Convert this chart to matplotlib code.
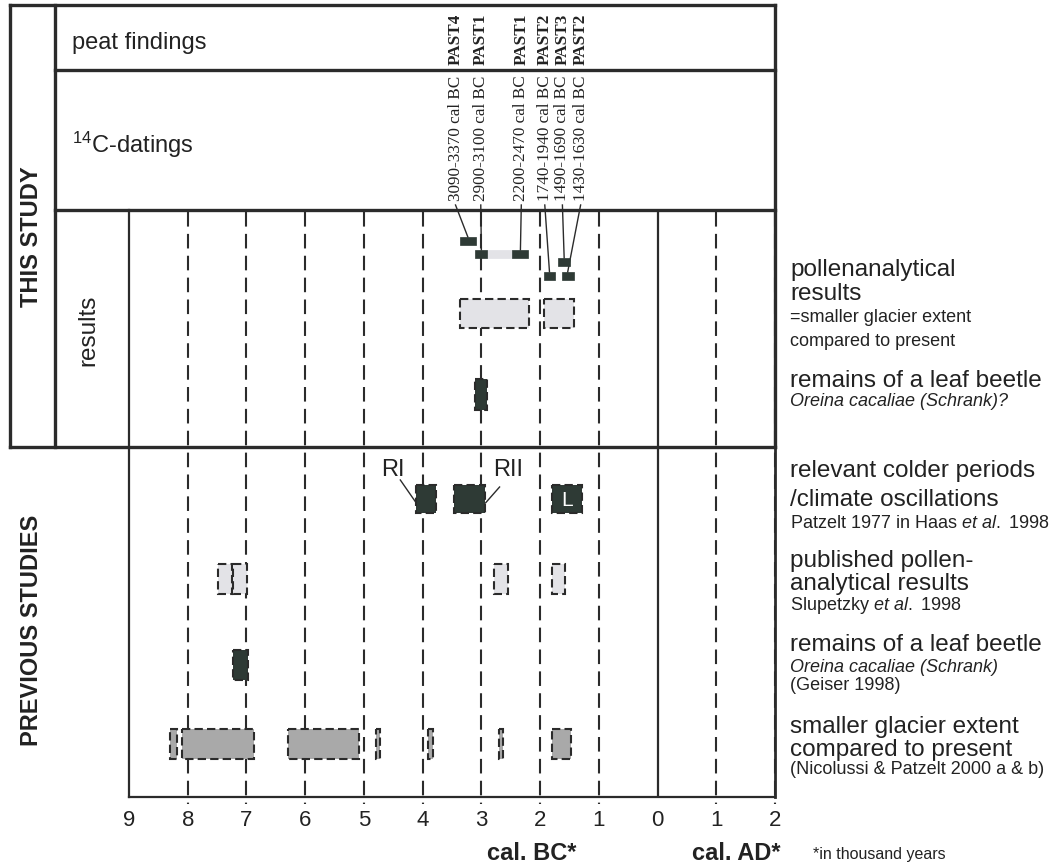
import matplotlib
matplotlib.use('Agg')
import matplotlib.pyplot as plt
from matplotlib.patches import Rectangle

plt.rcParams['font.family'] = ['Liberation Sans', 'DejaVu Sans']
plt.rcParams['mathtext.fontset'] = 'custom'
plt.rcParams['mathtext.rm'] = 'Liberation Sans'
plt.rcParams['mathtext.it'] = 'Liberation Sans:italic'
plt.rcParams['mathtext.bf'] = 'Liberation Sans:bold'

# ages in cal. years BC (old end, young end)
dating_sites = ["PAST4", "PAST1", "PAST1", "PAST2", "PAST3", "PAST2"]
dating_old = [3370, 3100, 2470, 1940, 1690, 1630]
dating_young = [3090, 2900, 2200, 1740, 1490, 1430]

pollen_this = [(3370, 2190), (1940, 1430)]
beetle_this = [(3100, 2900)]

cold_names = ["RI", "RII", "L"]
cold_periods = [(4120, 3780), (3470, 2930), (1790, 1290)]
pollen_prev = [(7480, 7250), (7230, 6990), (2790, 2550), (1790, 1580)]
beetle_prev = [(7230, 6970)]
glacier_prev = [(8300, 8180), (8100, 6870), (6290, 5090), (4800, 4730),
                (3910, 3830), (2700, 2640), (1790, 1480)]

tick_values = list(range(-9, 3))
tick_labels = ["9", "8", "7", "6", "5", "4", "3", "2", "1", "0", "1", "2"]

# layout (pixel rows of the original figure, y grows downwards)
W, H = 1060, 865
ROWS = {"pollen_this": (299, 328), "beetle_this": (379, 410),
        "cold": (485, 513), "pollen_prev": (564, 594),
        "beetle_prev": (650, 680), "glacier": (729, 759)}
DATING_ROW = {"PAST4": 237, "PAST1": 250, "PAST3": 258, "PAST2": 272}
LABEL_X = [-3.44, -3.01, -2.32, -1.92, -1.62, -1.31]

DARK = "#2b2b2b"
BAR = "#2e3a35"
LIGHT = "#e3e3e7"
MID = "#a9a9a9"
BOX_DASH = (0, (4, 2))

fig = plt.figure(figsize=(W / 100, H / 100), dpi=100, facecolor="white")

# frame / table lines
bg = fig.add_axes([0, 0, 1, 1], zorder=0)
bg.set_xlim(0, W)
bg.set_ylim(H, 0)
bg.axis("off")
thick = 2.4
for xs, ys, lw in [([10, 775], [5, 5], thick), ([10, 10], [5, 447], thick),
                   ([55, 55], [5, 447], thick), ([55, 775], [70, 70], thick),
                   ([55, 775], [210, 210], thick), ([10, 775], [447, 447], thick),
                   ([775, 775], [5, 447], thick), ([775, 775], [447, 797], 2.0)]:
    bg.plot(xs, ys, color=DARK, lw=lw, solid_capstyle="projecting")

# timeline panel
ax = fig.add_axes([129 / W, 1 - 797 / H, 646 / W, 587 / H], zorder=1)
ax.patch.set_alpha(0)
ax.set_xlim(-9, 2)
ax.set_ylim(797, 210)
for s in ["top", "right"]:
    ax.spines[s].set_visible(False)
for s in ["left", "bottom"]:
    ax.spines[s].set_linewidth(1.6)
    ax.spines[s].set_color(DARK)
ax.set_yticks([])
ax.set_xticks(tick_values)
ax.set_xticklabels(tick_labels)
ax.tick_params(axis="x", length=0, pad=9, labelsize=16, colors="#222222")

for t in tick_values:
    if t == 0:
        ax.plot([t, t], [210, 797], color=DARK, lw=1.6)
    elif t != -9:
        ax.plot([t, t], [212, 804], color=DARK, lw=1.5,
                linestyle=(0, (7, 3.5)), clip_on=False)


def box(old, young, row, face, dashed=True, z=3):
    top, bottom = ROWS[row] if isinstance(row, str) else row
    ax.add_patch(Rectangle((-old / 1000, top), (old - young) / 1000, bottom - top,
                           facecolor=face, edgecolor=DARK if dashed else face,
                           linestyle=BOX_DASH if dashed else "-",
                           lw=1.5 if dashed else 0.5, zorder=z))


# 14C datings, this study
bar_h = 7.5
past1 = [i for i, s in enumerate(dating_sites) if s == "PAST1"]
y1 = DATING_ROW["PAST1"]
box(dating_young[past1[0]], dating_old[past1[1]], (y1, y1 + bar_h), LIGHT, dashed=False, z=2)
for i, site in enumerate(dating_sites):
    y = DATING_ROW[site]
    box(dating_old[i], dating_young[i], (y, y + bar_h), BAR, dashed=False)
    xc = -(dating_old[i] + dating_young[i]) / 2000
    ax.plot([LABEL_X[i], xc], [205, y], color=DARK, lw=1.0, clip_on=False)
    ax.text(LABEL_X[i], 201, f"{dating_young[i]}-{dating_old[i]} cal BC",
            rotation=90, ha="center", va="bottom", fontsize=12.3,
            family="Liberation Serif", color="#222222")
    ax.text(LABEL_X[i], 39, site, rotation=90, ha="center", va="center",
            fontsize=12.3, family="Liberation Serif", weight="bold", color="#222222")

for old, young in pollen_this:
    box(old, young, "pollen_this", LIGHT)
for old, young in beetle_this:
    box(old, young, "beetle_this", BAR)

# previous studies
for name, (old, young) in zip(cold_names, cold_periods):
    box(old, young, "cold", BAR)
top, bottom = ROWS["cold"]
ax.text(-4.51, 470, "RI", ha="center", va="center", fontsize=17, color="#222222")
ax.plot([-4.38, -cold_periods[0][0] / 1000], [480, 502], color=DARK, lw=1.0)
ax.text(-2.55, 470, "RII", ha="center", va="center", fontsize=17, color="#222222")
ax.plot([-2.69, -cold_periods[1][1] / 1000], [487, 503], color=DARK, lw=1.0, zorder=4)
ax.text(-sum(cold_periods[2]) / 2000, (top + bottom) / 2 + 1, cold_names[2],
        ha="center", va="center", fontsize=15, color="white", zorder=5)

for old, young in pollen_prev:
    box(old, young, "pollen_prev", LIGHT)
for old, young in beetle_prev:
    box(old, young, "beetle_prev", BAR)
for old, young in glacier_prev:
    box(old, young, "glacier", MID)


def ftext(x, y, s, **kw):
    kw.setdefault("color", "#222222")
    fig.text(x / W, 1 - y / H, s, **kw)


# left headers
ftext(32, 237, "THIS STUDY", rotation=90, ha="center", va="center", fontsize=17, weight="bold")
ftext(32, 630, "PREVIOUS STUDIES", rotation=90, ha="center", va="center", fontsize=17, weight="bold")
ftext(88, 330, "results", rotation=90, ha="center", va="center", fontsize=17.5)
ftext(72, 43, "peat findings", ha="left", va="center", fontsize=17)
ftext(72, 145, r"$^{14}$C-datings", ha="left", va="center", fontsize=17)

# right legend texts
BIG, SMALL = 17.5, 13
right = [
    (270, "pollenanalytical", BIG, "normal"),
    (294, "results", BIG, "normal"),
    (317, "=smaller glacier extent", SMALL, "normal"),
    (342, "compared to present", SMALL, "normal"),
    (381, "remains of a leaf beetle", BIG, "normal"),
    (402, "Oreina cacaliae (Schrank)?", SMALL, "italic"),
    (471, "relevant colder periods", BIG, "normal"),
    (500, "/climate oscillations", BIG, "normal"),
    (523, r"Patzelt 1977 in Haas $\it{et\ al.}\ $1998", SMALL, "normal"),
    (561, "published pollen-", BIG, "normal"),
    (584, "analytical results", BIG, "normal"),
    (605, r"Slupetzky $\it{et\ al.}\ $1998", SMALL, "normal"),
    (645, "remains of a leaf beetle", BIG, "normal"),
    (668, "Oreina cacaliae (Schrank)", SMALL, "italic"),
    (686, "(Geiser 1998)", SMALL, "normal"),
    (727, "smaller glacier extent", BIG, "normal"),
    (750, "compared to present", BIG, "normal"),
    (769, "(Nicolussi & Patzelt 2000 a & b)", SMALL, "normal"),
]
for y, s, size, style in right:
    ftext(790, y, s, ha="left", va="center", fontsize=size, style=style)

# axis captions
ftext(532, 853, "cal. BC*", ha="center", va="center", fontsize=17, weight="bold")
ftext(736, 853, "cal. AD*", ha="center", va="center", fontsize=17, weight="bold")
ftext(813, 855, "*in thousand years", ha="left", va="center", fontsize=11.5)

fig.savefig("out.png", dpi=100, facecolor="white")
